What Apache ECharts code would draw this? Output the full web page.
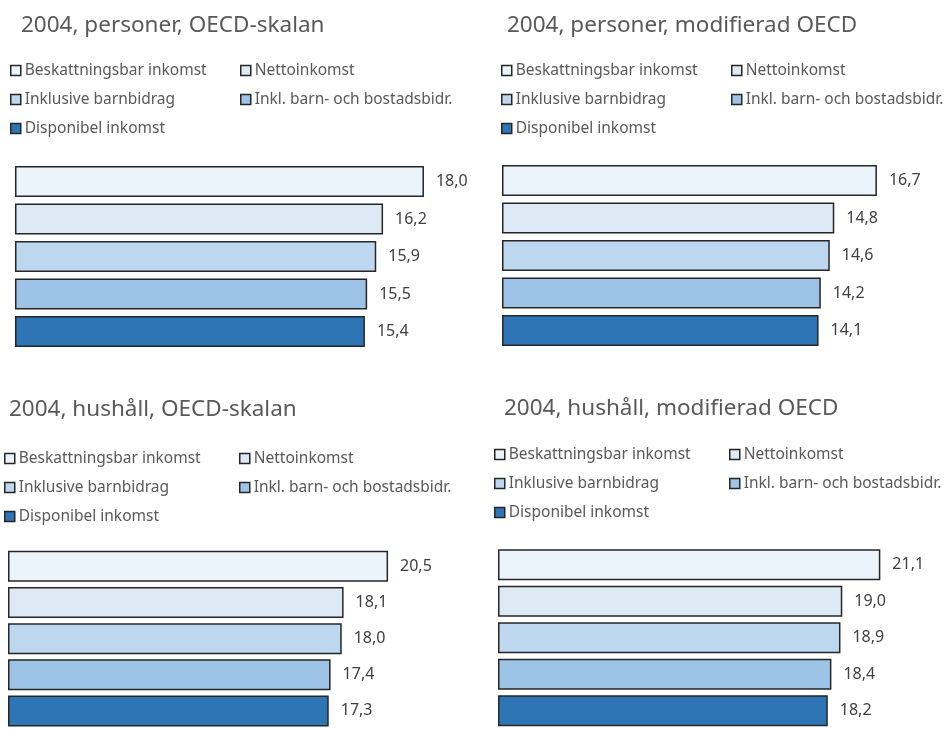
<!DOCTYPE html>
<html>
<head>
<meta charset="utf-8">
<script src="https://cdn.jsdelivr.net/npm/echarts@6/dist/echarts.min.js"></script>
<style>html,body{margin:0;padding:0;background:#fff;}#c{width:951px;height:729px;}</style>
</head>
<body>
<div id="c"></div>
<script>
// ---- data ----
const seriesNames = ['Beskattningsbar inkomst', 'Nettoinkomst', 'Inklusive barnbidrag', 'Inkl. barn- och bostadsbidr.', 'Disponibel inkomst'];
const panelTitles = ['2004, personer, OECD-skalan', '2004, personer, modifierad OECD', '2004, hushåll, OECD-skalan', '2004, hushåll, modifierad OECD'];
const personerOECD = [18.0, 16.2, 15.9, 15.5, 15.4];
const personerModOECD = [16.7, 14.8, 14.6, 14.2, 14.1];
const hushallOECD = [20.5, 18.1, 18.0, 17.4, 17.3];
const hushallModOECD = [21.1, 19.0, 18.9, 18.4, 18.2];
const panelValues = [personerOECD, personerModOECD, hushallOECD, hushallModOECD];

// ---- styles / layout ----
const colors = ['#EBF3FB', '#DDE9F5', '#BDD7EE', '#9DC3E6', '#2E75B6'];
const FONT = '"Noto Sans", sans-serif';
const layout = [
  { gridLeft: 15,  gridTop: 162.75, step: 37.5, max: 20, width: 454.4, barW: 31, titleX: 21,  titleY: 14,  legX1: 10,  legX2: 240, legY: 61 },
  { gridLeft: 502, gridTop: 161.75, step: 37.5, max: 20, width: 455,   barW: 31, titleX: 507, titleY: 14,  legX1: 501, legX2: 731, legY: 61 },
  { gridLeft: 8,   gridTop: 548.25, step: 37.5, max: 25, width: 463.5, barW: 31, titleX: 9,   titleY: 398, legX1: 4,   legX2: 239, legY: 449 },
  { gridLeft: 498, gridTop: 546.6,  step: 37.8, max: 25, width: 463,   barW: 31, titleX: 504, titleY: 397, legX1: 494, legX2: 729, legY: 445 }
];

const title = [], grid = [], xAxis = [], yAxis = [], legend = [], series = [];
layout.forEach((L, p) => {
  title.push({ text: panelTitles[p], left: L.titleX, top: L.titleY, padding: 0,
    textStyle: { fontFamily: FONT, fontSize: 22.5, fontWeight: 'normal', color: '#595959' } });
  grid.push({ left: L.gridLeft, top: L.gridTop, width: L.width, height: L.step * 5 });
  xAxis.push({ type: 'value', gridIndex: p, min: 0, max: L.max, show: false });
  yAxis.push({ type: 'category', gridIndex: p, data: seriesNames, inverse: true, show: false });
  const legCommon = {
    orient: 'vertical', icon: 'rect', itemWidth: 10, itemHeight: 10, itemGap: 10, padding: 0,
    selectedMode: false,
    itemStyle: { borderColor: '#262626', borderWidth: 1.5 },
    textStyle: { fontFamily: FONT, fontSize: 15.5, color: '#595959', lineHeight: 19, padding: [0, 0, 0, -1] }
  };
  legend.push(Object.assign({}, legCommon, { left: L.legX1, top: L.legY, data: [seriesNames[0], seriesNames[2], seriesNames[4]] }));
  legend.push(Object.assign({}, legCommon, { left: L.legX2, top: L.legY, data: [seriesNames[1], seriesNames[3]] }));
  const vals = panelValues[p];
  seriesNames.forEach((name, i) => {
    series.push({
      type: 'bar', name: name, xAxisIndex: p, yAxisIndex: p, stack: 'panel' + p,
      barWidth: L.barW,
      data: vals.map((v, j) => (j === i ? v : '-')),
      itemStyle: { color: colors[i], borderColor: '#262626', borderWidth: 1.5 },
      label: { show: true, position: 'right', distance: 12, fontFamily: FONT, fontSize: 16, color: '#404040',
        formatter: (d) => Number(d.value).toFixed(1).replace('.', ',') },
      emphasis: { disabled: true },
      animation: false
    });
  });
});

const chart = echarts.init(document.getElementById('c'), null, { renderer: 'canvas' });
chart.setOption({ animation: false, backgroundColor: '#ffffff', title, grid, xAxis, yAxis, legend, series, tooltip: { show: false } });
</script>
</body>
</html>
